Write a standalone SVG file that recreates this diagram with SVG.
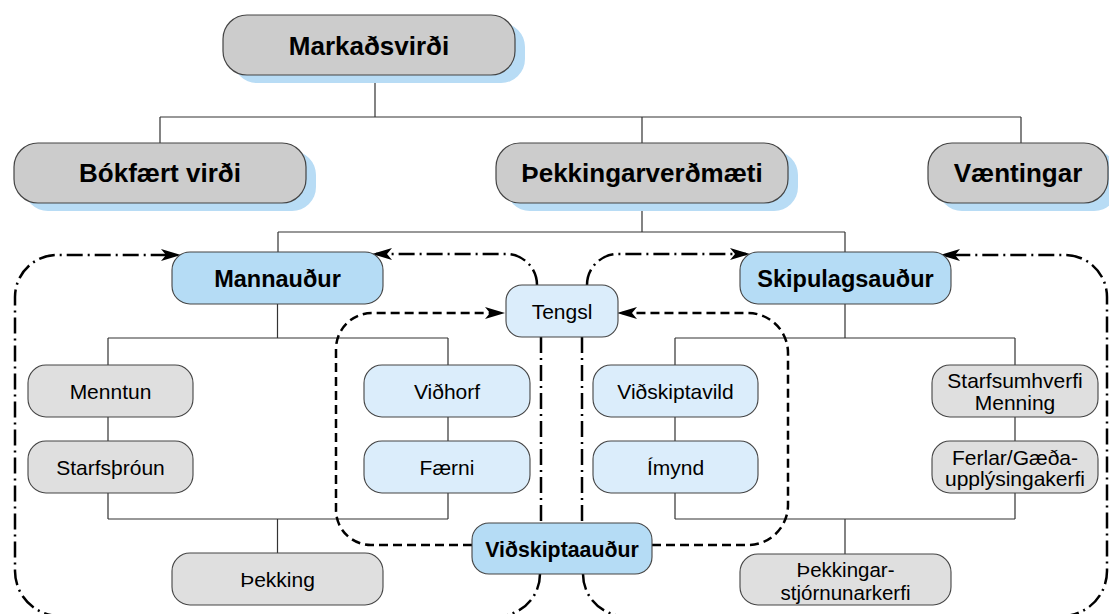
<svg xmlns="http://www.w3.org/2000/svg" width="1109" height="614" viewBox="0 0 1109 614">
<style>
text{font-family:"Liberation Sans",Arial,Helvetica,sans-serif;fill:#000;text-anchor:middle}
.t1{font-size:26px;font-weight:bold}
.t2{font-size:23.5px;font-weight:bold}
.t3{font-size:21px}
.shadow{fill:#b8dcf5;stroke:none}
.top{fill:#cccccc;stroke:#444;stroke-width:1.2}
.blue{fill:#b5dcf5;stroke:#444;stroke-width:1.1}
.lblue{fill:#dbedfb;stroke:#444;stroke-width:1.1}
.gray{fill:#dfdfdf;stroke:#444;stroke-width:1.1}
.tree{fill:none;stroke:#333;stroke-width:1.2}
.dd{fill:none;stroke:#000;stroke-width:2.5;stroke-dasharray:16 5 2 5}
.ds{fill:none;stroke:#000;stroke-width:2.5;stroke-dasharray:9 5}
</style>
<defs>
<marker id="ah" viewBox="0 0 20 12" refX="16" refY="6" markerWidth="20" markerHeight="12" markerUnits="userSpaceOnUse" orient="auto">
<path d="M0,0 L20,6 L0,12 L5,6 Z" fill="#000"/>
</marker>
</defs>
<g id="connectors">
<path class="tree" d="M375,75 V117 M160,117 H1021 M160,117 V143 M642,117 V143 M1021,117 V143"/>
<path class="tree" d="M642,203 V232 M278,232 H845 M278,232 V252 M845,232 V252"/>
<path class="tree" d="M277.5,303 V338 M108,338 H448 M108,338 V365 M448,338 V365 M108,417 V441 M448,417 V441 M108,493 V519 M448,493 V519 M108,519 H448 M277.5,519 V553"/>
<path class="tree" d="M845,304 V338 M675,338 H1015 M675,338 V365 M1015,338 V365 M675,417 V441 M1015,417 V441 M675,493 V519 M1015,493 V519 M675,519 H1015 M845,519 V554"/>
<path class="dd" d="M540,574 A42,42 0 0 1 498,616 H60 A45,45 0 0 1 15,571 V297 A42,42 0 0 1 57,255 H177" marker-end="url(#ah)"/>
<path class="dd" d="M537,285 A31,31 0 0 0 506,254 H376" marker-end="url(#ah)"/>
<path class="dd" d="M541,337 V523"/>
<path class="dd" d="M583,574 A42,42 0 0 0 625,616 H1062 A45,45 0 0 0 1107,571 V297 A42,42 0 0 0 1065,255 H944" marker-end="url(#ah)"/>
<path class="dd" d="M587,285 A31,31 0 0 1 618,254 H746" marker-end="url(#ah)"/>
<path class="dd" d="M582,337 V523"/>
<path class="ds" d="M472,545 H371 A35,35 0 0 1 336,510 V349 A36,36 0 0 1 372,313 H501" marker-end="url(#ah)"/>
<path class="ds" d="M652,545 H748 A40,40 0 0 0 788,505 V353 A40,40 0 0 0 748,313 H621" marker-end="url(#ah)"/>
</g>
<g id="markadsvirdi">
<rect class="shadow" x="233" y="23" width="292" height="60" rx="24"/>
<rect class="top" x="223" y="15" width="292" height="60" rx="24"/>
<text class="t1" x="369" y="55">Markaðsvirði</text>
</g>
<g id="bokfaert">
<rect class="shadow" x="24" y="151" width="292" height="60" rx="24"/>
<rect class="top" x="14" y="143" width="292" height="60" rx="24"/>
<text class="t1" x="160" y="182">Bókfært virði</text>
</g>
<g id="thekkingarverdmaeti">
<rect class="shadow" x="506" y="151" width="292" height="60" rx="24"/>
<rect class="top" x="496" y="143" width="292" height="60" rx="24"/>
<text class="t1" x="642" y="182">Þekkingarverðmæti</text>
</g>
<g id="vaentingar">
<rect class="shadow" x="938" y="151" width="180" height="60" rx="24"/>
<rect class="top" x="928" y="143" width="180" height="60" rx="24"/>
<text class="t1" x="1018" y="182">Væntingar</text>
</g>
<g id="mannaudur">
<rect class="blue" x="172" y="252" width="211" height="52" rx="18"/>
<text class="t2" x="277.5" y="287">Mannauður</text>
</g>
<g id="skipulagsaudur">
<rect class="blue" x="740" y="252" width="211" height="52" rx="18"/>
<text class="t2" x="845.5" y="287">Skipulagsauður</text>
</g>
<g id="tengsl">
<rect class="lblue" x="506" y="285" width="112" height="52" rx="16"/>
<text class="t3" x="562" y="319">Tengsl</text>
</g>
<g id="vidskiptaaudur">
<rect class="blue" x="472" y="523" width="180" height="51" rx="17"/>
<text class="t2" style="font-size:21.3px" x="562" y="556.5">Viðskiptaauður</text>
</g>
<g id="menntun">
<rect class="gray" x="28" y="365" width="165" height="52" rx="18"/>
<text class="t3" x="110.5" y="399">Menntun</text>
</g>
<g id="starfsthroun">
<rect class="gray" x="28" y="441" width="165" height="52" rx="18"/>
<text class="t3" x="110.5" y="475">Starfsþróun</text>
</g>
<g id="vidhorf">
<rect class="lblue" x="364" y="365" width="166" height="52" rx="18"/>
<text class="t3" x="447" y="399">Viðhorf</text>
</g>
<g id="faerni">
<rect class="lblue" x="364" y="441" width="166" height="52" rx="18"/>
<text class="t3" x="447" y="475">Færni</text>
</g>
<g id="thekking">
<rect class="gray" x="172" y="553" width="211" height="52" rx="18"/>
<text class="t3" x="277.5" y="587">Þekking</text>
</g>
<g id="vidskiptavild">
<rect class="lblue" x="593" y="365" width="165" height="52" rx="18"/>
<text class="t3" x="675.5" y="399">Viðskiptavild</text>
</g>
<g id="imynd">
<rect class="lblue" x="593" y="441" width="165" height="52" rx="18"/>
<text class="t3" x="675.5" y="475">Ímynd</text>
</g>
<g id="starfsumhverfi">
<rect class="gray" x="932" y="365" width="166" height="52" rx="18"/>
<text class="t3" x="1015" y="388">Starfsumhverfi<tspan x="1015" y="409.5">Menning</tspan></text>
</g>
<g id="ferlar">
<rect class="gray" x="932" y="441" width="166" height="52" rx="18"/>
<text class="t3" x="1015" y="464.5">Ferlar/Gæða-<tspan x="1015" y="486">upplýsingakerfi</tspan></text>
</g>
<g id="thekkingarstjornun">
<rect class="gray" x="740" y="554" width="211" height="51" rx="18"/>
<text class="t3" style="font-size:20.5px" x="845.5" y="577">Þekkingar-<tspan x="845.5" y="599.5">stjórnunarkerfi</tspan></text>
</g>
</svg>
